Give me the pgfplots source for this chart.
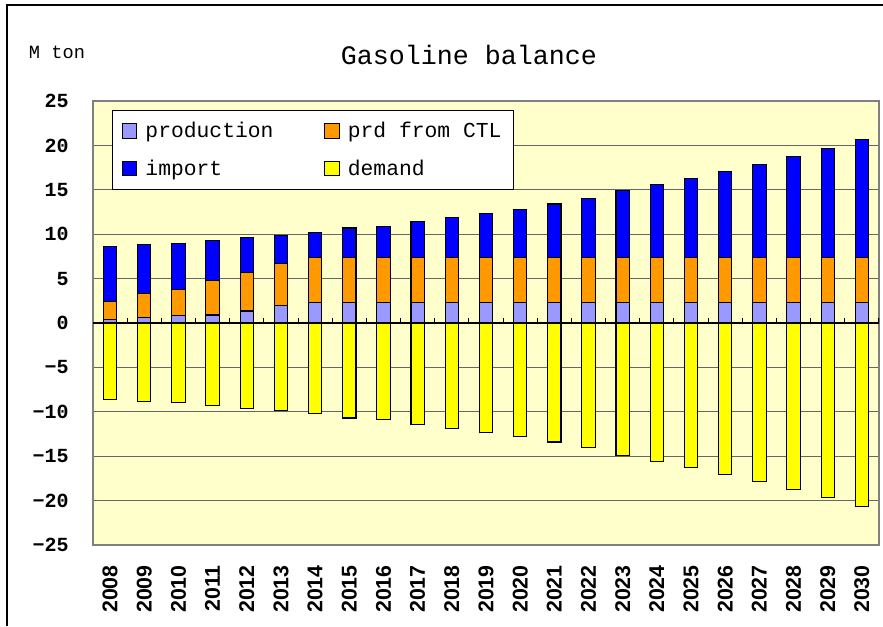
\documentclass[border=0pt]{standalone}
\usepackage{pgfplots}
\pgfplotsset{compat=1.18}
\usepackage{fontspec}
\setmainfont{Liberation Serif}
\newfontfamily\monofont{Liberation Mono}
\newfontfamily\sansfont{Liberation Sans}
\definecolor{prodc}{HTML}{9999FF}
\definecolor{ctlc}{HTML}{FF9900}
\definecolor{impc}{HTML}{0000FF}
\definecolor{demc}{HTML}{FFFF00}
\definecolor{bgc}{HTML}{FFFFCC}
\pgfplotsset{base/.style={
  scale only axis, width=589.5pt, height=333pt,
  at={(69.75pt,60.75pt)}, anchor=south west,
  xmin=-0.5, xmax=22.5, ymin=-25, ymax=25,
  bar width=10pt,
},
sqleg/.style={legend image code/.code={\draw[##1] (0pt,-5.5pt) rectangle (11pt,5.5pt);}}}
\begin{document}
\begin{tikzpicture}[x=1pt,y=1pt]
\useasboundingbox (0,0) rectangle (662.25,469.5);
\draw[line width=1.2pt] (5.25,0) -- (5.25,465.75) -- (662.25,465.75);
\node[font=\monofont\fontsize{20}{22}\selectfont] at (351.75,428.25) {Gasoline balance};
\node[font=\monofont\fontsize{14}{16}\selectfont] at (42.75,430.5) {M ton};
\begin{axis}[base,
  axis background/.style={fill=bgc},
  axis line style={draw=black!50, line width=1pt},
  ytick={-25,-20,...,25},
  yticklabels={−25,−20,−15,−10,−5,0,5,10,15,20,25},
  ymajorgrids, grid style={draw=black!60, line width=0.8pt},
  major tick length=0pt,
  xtick={0,...,22},
  xticklabels={2008,2009,2010,2011,2012,2013,2014,2015,2016,2017,2018,2019,2020,2021,2022,2023,2024,2025,2026,2027,2028,2029,2030},
  xticklabel style={rotate=90, anchor=east, inner sep=0pt, font=\sansfont\bfseries\fontsize{16}{17}\selectfont},
  xticklabel shift=15pt,
  yticklabel style={anchor=east, inner sep=0pt, font=\monofont\bfseries\fontsize{15}{16}\selectfont},
  yticklabel shift=18pt,
  ybar,
]
\addplot[fill=demc, draw=black, line width=0.8pt] coordinates {
(0,-8.6) (1,-8.8) (2,-9.0) (3,-9.3) (4,-9.6) (5,-9.9) (6,-10.2) (7,-10.7) (8,-10.9) (9,-11.4) (10,-11.9) (11,-12.35) (12,-12.8) (13,-13.4) (14,-14.0) (15,-14.9) (16,-15.6) (17,-16.3) (18,-17.1) (19,-17.9) (20,-18.8) (21,-19.7) (22,-20.7)};
\end{axis}
\begin{axis}[base,
  hide axis,
  ybar stacked,
  legend style={at={(0.024,0.98)}, anchor=north west, draw=black, fill=white, line width=0.8pt,
    font=\monofont\fontsize{16}{17}\selectfont, legend columns=2,
    /tikz/every odd column/.append style={column sep=4pt},
    /tikz/every even column/.append style={column sep=36pt}, row sep=11pt, inner sep=7pt},
  legend cell align=left,
]
\addplot[fill=prodc, draw=black, line width=0.8pt, sqleg] coordinates {
(0,0.4) (1,0.6) (2,0.8) (3,0.9) (4,1.35) (5,2.0) (6,2.3) (7,2.3) (8,2.3) (9,2.3) (10,2.3) (11,2.3) (12,2.3) (13,2.3) (14,2.3) (15,2.3) (16,2.3) (17,2.3) (18,2.3) (19,2.3) (20,2.3) (21,2.3) (22,2.3)};
\addlegendentry{production}
\addplot[fill=ctlc, draw=black, line width=0.8pt, sqleg] coordinates {
(0,2.0) (1,2.7) (2,3.0) (3,3.9) (4,4.35) (5,4.7) (6,5.1) (7,5.1) (8,5.1) (9,5.1) (10,5.1) (11,5.1) (12,5.1) (13,5.1) (14,5.1) (15,5.1) (16,5.1) (17,5.1) (18,5.1) (19,5.1) (20,5.1) (21,5.1) (22,5.1)};
\addlegendentry{prd from CTL}
\addplot[fill=impc, draw=black, line width=0.8pt, sqleg] coordinates {
(0,6.2) (1,5.5) (2,5.2) (3,4.5) (4,3.9) (5,3.2) (6,2.8) (7,3.3) (8,3.5) (9,4.0) (10,4.5) (11,4.95) (12,5.4) (13,6.0) (14,6.6) (15,7.5) (16,8.2) (17,8.9) (18,9.7) (19,10.5) (20,11.4) (21,12.3) (22,13.3)};
\addlegendentry{import}
\addlegendimage{fill=demc, draw=black, line width=0.8pt, sqleg}
\addlegendentry{demand}
\draw[black, line width=1.2pt] (axis cs:-0.5,0) -- (axis cs:22.5,0);
\pgfplotsinvokeforeach{0.5,1.5,...,22.5}{\draw[black, line width=0.8pt] (axis cs:#1,0) -- ([yshift=4pt]axis cs:#1,0);}
\end{axis}
\end{tikzpicture}
\end{document}
